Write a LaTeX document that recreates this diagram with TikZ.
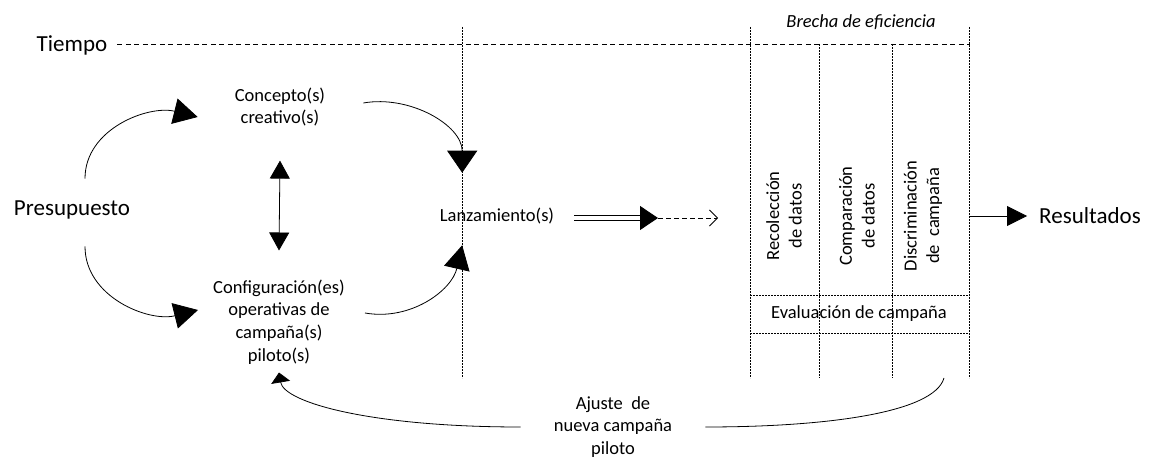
\documentclass[tikz,border=0pt]{standalone}
\usepackage{fontspec}
\setmainfont{Carlito}
\usepackage{tikz}
\usetikzlibrary{arrows.meta, positioning}

\begin{document}
\begin{tikzpicture}[x=1pt, y=1pt,
        txt/.style={font=\fontsize{18.5}{22.7}\selectfont, inner sep=0pt, align=center},
        bigtxt/.style={font=\fontsize{23}{27}\selectfont, inner sep=0pt},
        flow/.style={line width=0.8pt, -{Triangle[length=24pt, width=26pt]}},
        gapline/.style={line width=0.7pt, dash pattern=on 2pt off 1pt}]
        \useasboundingbox (0, 0) rectangle (1152, -457);

        \node[bigtxt] (tiempo) at (72, -45) {Tiempo};
        \node[bigtxt] (pres) at (72, -210) {Presupuesto};
        \node[txt] (conc) at (280, -107) {Concepto(s)\\creativo(s)};
        \node[txt] (conf) at (279, -322) {Configuración(es)\\operativas de\\campaña(s)\\piloto(s)};
        \node[txt] (lanz) at (497, -216) {Lanzamiento(s)};
        \node[bigtxt] (res) at (1090, -216) {Resultados};
        \node[txt, font=\fontsize{18.5}{22.7}\selectfont\itshape] (brecha) at (861, -22) {Brecha de eficiencia};

        \node[txt, rotate=90] (reco) at (784, -216) {Recolección\\de datos};
        \node[txt, rotate=90] (comp) at (857, -216) {Comparación\\de datos};
        \node[txt, rotate=90] (disc) at (923, -216) {Discriminación\\de\ \ campaña};
        \node[txt] (eval) at (859, -314) {Evaluación de campaña};
        \node[txt, inner xsep=33pt] (ajuste) at (613, -427) {Ajuste\ \ de\\nueva campaña\\piloto};

        \coordinate (arrmid) at (658, -218);
        \coordinate (arrend) at (718, -218);
        \coordinate (brechaR) at (969, -216);
        \coordinate (discend) at (944, -378);

        \draw[line width=0.8pt, dash pattern=on 5pt off 3.5pt] ([xshift=10pt, yshift=1pt]tiempo.east) -- ++(853, 0);
        \draw[gapline] (462, -27) -- (462, -378)
            (750, -27) -- (750, -378)
            (819, -44) -- (819, -378)
            (892, -44) -- (892, -378)
            (969, -27) -- (969, -378)
            (750, -295) -- (969, -295)
            (750, -333) -- (969, -333);

        \draw[flow] ([xshift=13pt, yshift=22pt]pres.north) to[out=90, in=166] ([xshift=-37pt, yshift=-10pt]conc.west);
        \draw[flow] ([xshift=13pt, yshift=-27pt]pres.south) to[out=-90, in=194] ([xshift=-15pt, yshift=12pt]conf.west);
        \draw[flow, -{Triangle[length=22pt, width=30pt]}] ([xshift=38pt, yshift=4pt]conc.east) to[out=10, in=90] ([xshift=22.5pt, yshift=35pt]lanz.north west);
        \draw[flow] ([xshift=20pt, yshift=9pt]conf.east) to[out=-10, in=-103] ([xshift=22.5pt, yshift=-21pt]lanz.south west);
        \draw[line width=0.8pt, {Triangle[length=18pt, width=20pt]}-{Triangle[length=18pt, width=20pt]}] ([yshift=-34pt]conc.south) -- ([yshift=29pt]conf.north);

        \draw[double, double distance=4pt, line width=1pt, -{Triangle[length=18pt, width=24pt]}] ([xshift=20pt, yshift=-2pt]lanz.east) -- (arrmid);
        \draw[line width=0.8pt, dash pattern=on 5pt off 3pt, -{Straight Barb[length=8pt, width=16pt]}] (arrmid) -- (arrend);
        \draw[line width=0.8pt, -{Triangle[length=20pt, width=20pt]}] (brechaR) -- ([xshift=-12pt]res.west);

        \draw[line width=0.8pt] (discend) .. controls +(-10, -35) and +(120, 0) .. (ajuste.east);
        \draw[line width=0.8pt, -{Triangle[length=10pt, width=19pt]}] (ajuste.west) .. controls +(-150, 0) and +(5, -30) .. ([yshift=-8pt]conf.south);
\end{tikzpicture}
\end{document}
